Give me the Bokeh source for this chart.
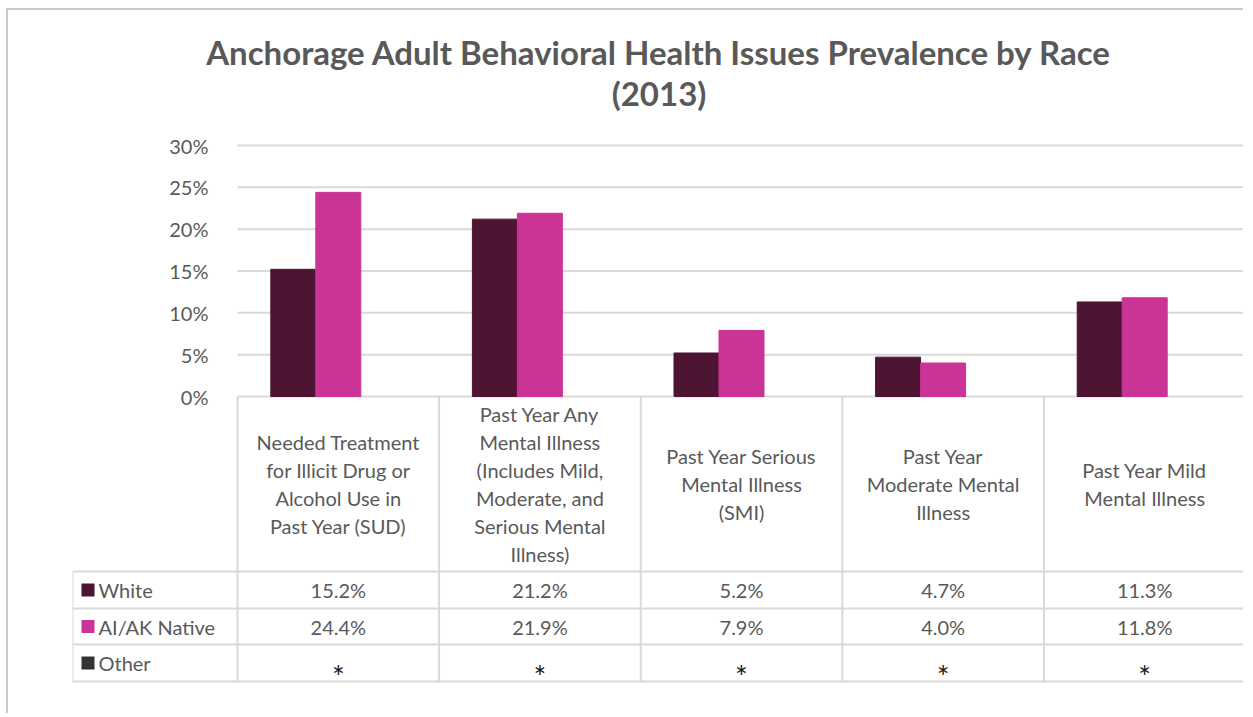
import numpy as np
from bokeh.plotting import figure
from bokeh.models import Range1d, FixedTicker, PrintfTickFormatter, Title
from bokeh.core.properties import value
from bokeh.embed import file_html
from bokeh.resources import INLINE

# ---------------- data ----------------
title_line1 = "Anchorage Adult Behavioral Health Issues Prevalence by Race"
title_line2 = "(2013)"
categories = [
    "Needed Treatment\nfor Illicit Drug or\nAlcohol Use in\nPast Year (SUD)",
    "Past Year Any\nMental Illness\n(Includes Mild,\nModerate, and\nSerious Mental\nIllness)",
    "Past Year Serious\nMental Illness\n(SMI)",
    "Past Year\nModerate Mental\nIllness",
    "Past Year Mild\nMental Illness",
]
series_names = ["White", "AI/AK Native", "Other"]
white = [15.2, 21.2, 5.2, 4.7, 11.3]
ai_ak_native = [24.4, 21.9, 7.9, 4.0, 11.8]
other_labels = ["*", "*", "*", "*", "*"]   # suppressed values
y_ticks = [0, 5, 10, 15, 20, 25, 30]

# ---------------- styles / layout ----------------
C_WHITE = "#4D1434"
C_AI = "#CB3497"
C_OTHER = "#333333"
TXT = "#595959"
LINE = "#D9D9D9"
FONT = "Lato"

CANVAS_LEFT, CANVAS_TOP = 8, 10
FRAME_LEFT, FRAME_RIGHT = 72, 1245
FRAME_TOP, FRAME_BOTTOM = 128, 683
W, H = FRAME_RIGHT - CANVAS_LEFT, 705
CAT_LEFT = 237
ZERO_Y, TOP_Y = 396, 145
HDR_BOTTOM, ROW1, ROW2, ROW3 = 571, 608, 644, 681

n = len(categories)
PPX = (FRAME_RIGHT - CAT_LEFT) / n
X0 = -0.5 - (CAT_LEFT - FRAME_LEFT) / PPX
PPY = (ZERO_Y - TOP_Y) / y_ticks[-1]


def dx(px):
    return X0 + (px - FRAME_LEFT) / PPX


def dy(py):
    return (ZERO_Y - py) / PPY


p = figure(
    width=W, height=H,
    x_range=Range1d(X0, n - 0.5),
    y_range=Range1d(dy(FRAME_BOTTOM), dy(FRAME_TOP)),
    output_backend="svg", toolbar_location=None,
    x_axis_location=None,
    title=title_line1,
    min_border_left=FRAME_LEFT - CANVAS_LEFT,
    min_border_right=CANVAS_LEFT + W - FRAME_RIGHT,
    min_border_top=FRAME_TOP - CANVAS_TOP,
    min_border_bottom=CANVAS_TOP + H - FRAME_BOTTOM,
)
p.styles = {"margin-left": "6px", "margin-top": "8px",
            "border-left": "2px solid #C9C9C9", "border-top": "2px solid #C9C9C9"}
p.outline_line_color = None
p.xgrid.visible = False
p.ygrid.visible = False

p.title.align = "center"
p.title.text_font = FONT
p.title.text_font_size = "33px"
p.title.text_font_style = "bold"
p.title.text_color = TXT
p.title.standoff = -33
p.title.offset = -7
sub = Title(text=title_line2, align="center", text_font=FONT, text_font_size="33px",
            text_font_style="bold", text_color=TXT, standoff=31, offset=-7)
p.add_layout(sub, "above")

# y axis placed at the left edge of the category area
ax = p.yaxis[0]
ax.fixed_location = -0.5
ax.ticker = FixedTicker(ticks=y_ticks)
ax.formatter = PrintfTickFormatter(format="%d%%")
ax.bounds = (y_ticks[0], y_ticks[-1])
ax.axis_line_color = None
ax.major_tick_line_color = None
ax.minor_tick_line_color = None
ax.major_label_standoff = 23
ax.major_label_text_font = FONT
ax.major_label_text_font_size = "20px"
ax.major_label_text_color = TXT

# gridlines over the category area
p.segment(x0=[-0.5] * len(y_ticks), x1=[n - 0.5] * len(y_ticks), y0=y_ticks, y1=y_ticks,
          line_color=LINE, line_width=2)

# bars (three series slots per category; "Other" is suppressed)
bw = 45 / PPX
idx = np.arange(n)
p.vbar(x=idx - bw, top=white, width=bw, bottom=0, fill_color=C_WHITE, line_color=C_WHITE)
p.vbar(x=idx, top=ai_ak_native, width=bw, bottom=0, fill_color=C_AI, line_color=C_AI)

# ---------------- data table ----------------
xs_left = dx(FRAME_LEFT)
xs_right = n - 0.5
hy = [dy(HDR_BOTTOM), dy(ROW1), dy(ROW2), dy(ROW3)]
p.segment(x0=[xs_left] * 4, x1=[xs_right] * 4, y0=hy, y1=hy, line_color=LINE, line_width=2)
vx = [i - 0.5 for i in range(n + 1)]
p.segment(x0=vx, x1=vx, y0=[0] * len(vx), y1=[dy(ROW3)] * len(vx), line_color=LINE, line_width=2)
p.segment(x0=[xs_left], x1=[xs_left], y0=[dy(HDR_BOTTOM)], y1=[dy(ROW3)], line_color=LINE, line_width=2)

# category header labels
p.text(x=idx, y=[dy((ZERO_Y + HDR_BOTTOM) / 2)] * n, text=categories,
       text_align="center", text_baseline="middle", text_font=value(FONT),
       text_font_size="20px", text_color=TXT, text_line_height=1.17)

row_c = [(HDR_BOTTOM + ROW1) / 2, (ROW1 + ROW2) / 2, (ROW2 + ROW3) / 2]
colors = [C_WHITE, C_AI, C_OTHER]
p.rect(x=[dx(87.5)] * 3, y=[dy(c) for c in row_c], width=13, height=13,
       width_units="screen", height_units="screen", fill_color=colors, line_color=None)
p.text(x=[dx(98)] * 3, y=[dy(c) for c in row_c], text=series_names, text_align="left",
       text_baseline="middle", text_font=value(FONT), text_font_size="20px", text_color=TXT)

vals = [f"{v:.1f}%" for v in white] + [f"{v:.1f}%" for v in ai_ak_native]
vy = [dy(row_c[0])] * n + [dy(row_c[1])] * n
p.text(x=list(idx) * 2, y=vy, text=vals, text_align="center", text_baseline="middle",
       text_font=value(FONT), text_font_size="20px", text_color=TXT)
p.text(x=idx, y=[dy(row_c[2] + 13)] * n, text=other_labels, text_align="center",
       text_baseline="middle", text_font=value(FONT), text_font_size="30px", text_color="#1A1A1A")

open("out.html", "w").write(file_html(p, INLINE))
